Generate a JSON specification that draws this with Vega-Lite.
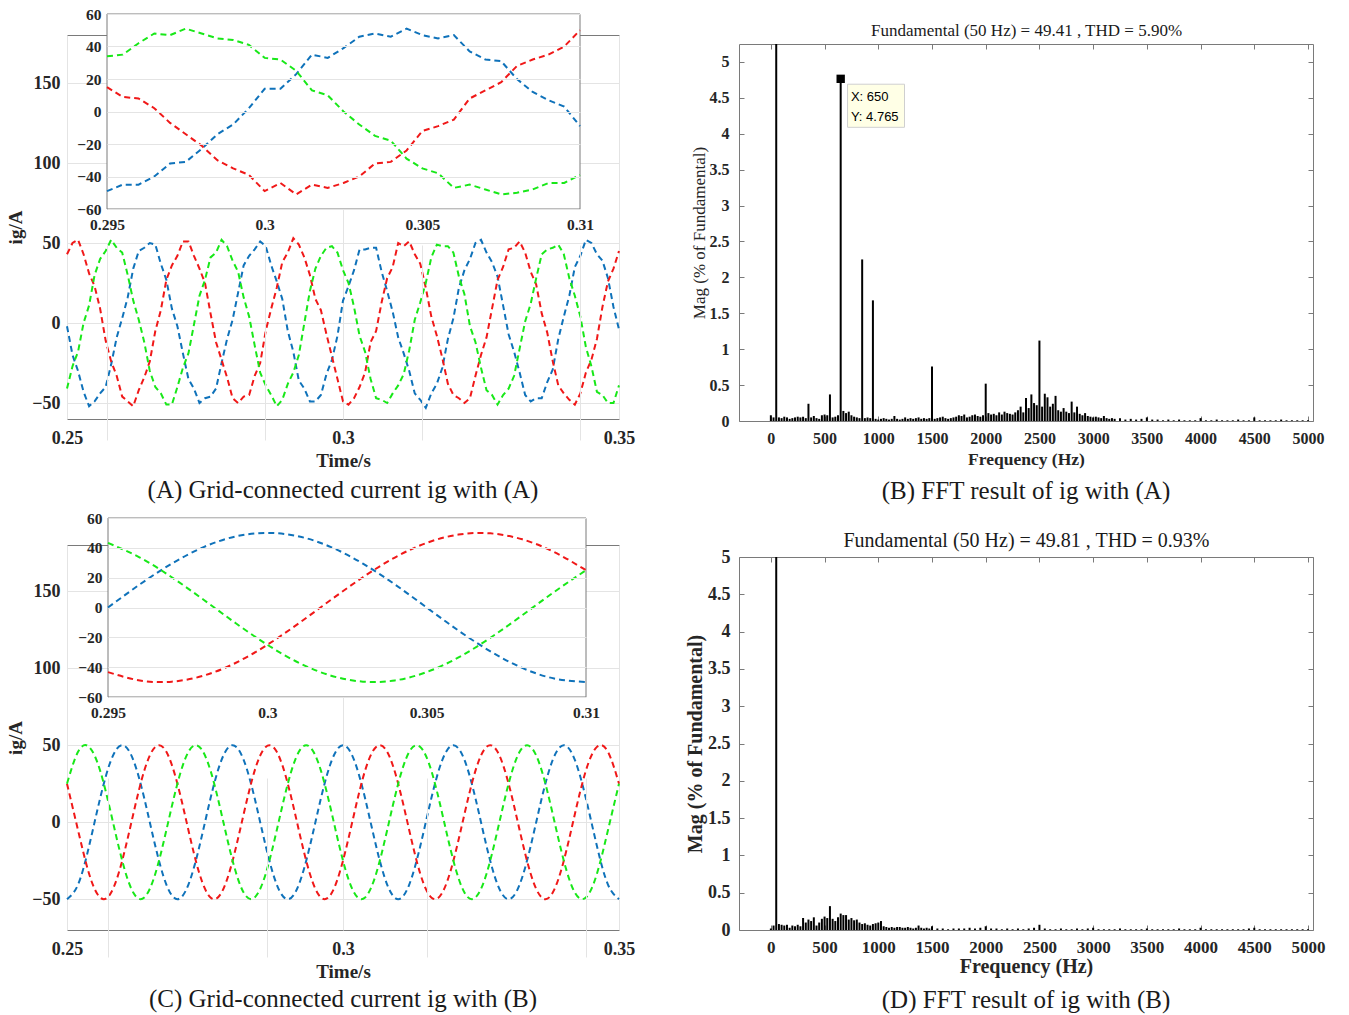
{
"$schema": "https://vega.github.io/schema/vega-lite/v6.json",
"background": "white",
"padding": {"left": 6, "top": 6, "right": 10, "bottom": 6},
"config": {
  "view": {"stroke": "#7a7a7a", "strokeWidth": 1},
  "axis": {"labelFont": "Liberation Serif", "titleFont": "Liberation Serif", "labelFontWeight": "bold", "titleFontWeight": "bold", "labelColor": "#262626", "titleColor": "#262626", "domain": false, "ticks": false, "gridColor": "#e4e4e4", "labelFlush": false},
  "title": {"font": "Liberation Serif", "fontWeight": "normal", "color": "#1a1a1a"}
},
"datasets": {
"mainA": [
{"t":0.25,"p":"a","v":-2},{"t":0.25,"p":"b","v":43},{"t":0.25,"p":"c","v":-41},
{"t":0.251,"p":"a","v":-20},{"t":0.251,"p":"b","v":50},{"t":0.251,"p":"c","v":-27},
{"t":0.252,"p":"a","v":-30},{"t":0.252,"p":"b","v":52},{"t":0.252,"p":"c","v":-18},
{"t":0.253,"p":"a","v":-43},{"t":0.253,"p":"b","v":43},{"t":0.253,"p":"c","v":0},
{"t":0.254,"p":"a","v":-52},{"t":0.254,"p":"b","v":31},{"t":0.254,"p":"c","v":11},
{"t":0.255,"p":"a","v":-49},{"t":0.255,"p":"b","v":23},{"t":0.255,"p":"c","v":30},
{"t":0.256,"p":"a","v":-44},{"t":0.256,"p":"b","v":9},{"t":0.256,"p":"c","v":40},
{"t":0.257,"p":"a","v":-40},{"t":0.257,"p":"b","v":-11},{"t":0.257,"p":"c","v":45},
{"t":0.258,"p":"a","v":-26},{"t":0.258,"p":"b","v":-24},{"t":0.258,"p":"c","v":52},
{"t":0.259,"p":"a","v":-9},{"t":0.259,"p":"b","v":-33},{"t":0.259,"p":"c","v":47},
{"t":0.26,"p":"a","v":3},{"t":0.26,"p":"b","v":-46},{"t":0.26,"p":"c","v":44},
{"t":0.261,"p":"a","v":16},{"t":0.261,"p":"b","v":-49},{"t":0.261,"p":"c","v":30},
{"t":0.262,"p":"a","v":34},{"t":0.262,"p":"b","v":-52},{"t":0.262,"p":"c","v":14},
{"t":0.263,"p":"a","v":45},{"t":0.263,"p":"b","v":-42},{"t":0.263,"p":"c","v":2},
{"t":0.264,"p":"a","v":47},{"t":0.264,"p":"b","v":-34},{"t":0.264,"p":"c","v":-12},
{"t":0.265,"p":"a","v":50},{"t":0.265,"p":"b","v":-24},{"t":0.265,"p":"c","v":-30},
{"t":0.266,"p":"a","v":49},{"t":0.266,"p":"b","v":-5},{"t":0.266,"p":"c","v":-40},
{"t":0.267,"p":"a","v":37},{"t":0.267,"p":"b","v":8},{"t":0.267,"p":"c","v":-44},
{"t":0.268,"p":"a","v":27},{"t":0.268,"p":"b","v":27},{"t":0.268,"p":"c","v":-51},
{"t":0.269,"p":"a","v":9},{"t":0.269,"p":"b","v":36},{"t":0.269,"p":"c","v":-51},
{"t":0.27,"p":"a","v":-2},{"t":0.27,"p":"b","v":42},{"t":0.27,"p":"c","v":-40},
{"t":0.271,"p":"a","v":-19},{"t":0.271,"p":"b","v":51},{"t":0.271,"p":"c","v":-28},
{"t":0.272,"p":"a","v":-35},{"t":0.272,"p":"b","v":51},{"t":0.272,"p":"c","v":-19},
{"t":0.273,"p":"a","v":-41},{"t":0.273,"p":"b","v":42},{"t":0.273,"p":"c","v":-1},
{"t":0.274,"p":"a","v":-50},{"t":0.274,"p":"b","v":34},{"t":0.274,"p":"c","v":17},
{"t":0.275,"p":"a","v":-47},{"t":0.275,"p":"b","v":25},{"t":0.275,"p":"c","v":27},
{"t":0.276,"p":"a","v":-46},{"t":0.276,"p":"b","v":6},{"t":0.276,"p":"c","v":41},
{"t":0.277,"p":"a","v":-41},{"t":0.277,"p":"b","v":-12},{"t":0.277,"p":"c","v":44},
{"t":0.278,"p":"a","v":-25},{"t":0.278,"p":"b","v":-23},{"t":0.278,"p":"c","v":52},
{"t":0.279,"p":"a","v":-10},{"t":0.279,"p":"b","v":-34},{"t":0.279,"p":"c","v":48},
{"t":0.28,"p":"a","v":2},{"t":0.28,"p":"b","v":-47},{"t":0.28,"p":"c","v":39},
{"t":0.281,"p":"a","v":19},{"t":0.281,"p":"b","v":-50},{"t":0.281,"p":"c","v":32},
{"t":0.282,"p":"a","v":36},{"t":0.282,"p":"b","v":-46},{"t":0.282,"p":"c","v":16},
{"t":0.283,"p":"a","v":42},{"t":0.283,"p":"b","v":-45},{"t":0.283,"p":"c","v":4},
{"t":0.284,"p":"a","v":46},{"t":0.284,"p":"b","v":-33},{"t":0.284,"p":"c","v":-14},
{"t":0.285,"p":"a","v":51},{"t":0.285,"p":"b","v":-25},{"t":0.285,"p":"c","v":-31},
{"t":0.286,"p":"a","v":48},{"t":0.286,"p":"b","v":-5},{"t":0.286,"p":"c","v":-39},
{"t":0.287,"p":"a","v":36},{"t":0.287,"p":"b","v":9},{"t":0.287,"p":"c","v":-45},
{"t":0.288,"p":"a","v":26},{"t":0.288,"p":"b","v":22},{"t":0.288,"p":"c","v":-52},
{"t":0.289,"p":"a","v":15},{"t":0.289,"p":"b","v":38},{"t":0.289,"p":"c","v":-48},
{"t":0.29,"p":"a","v":-5},{"t":0.29,"p":"b","v":44},{"t":0.29,"p":"c","v":-38},
{"t":0.291,"p":"a","v":-18},{"t":0.291,"p":"b","v":53},{"t":0.291,"p":"c","v":-31},
{"t":0.292,"p":"a","v":-36},{"t":0.292,"p":"b","v":49},{"t":0.292,"p":"c","v":-20},
{"t":0.293,"p":"a","v":-41},{"t":0.293,"p":"b","v":41},{"t":0.293,"p":"c","v":0},
{"t":0.294,"p":"a","v":-49},{"t":0.294,"p":"b","v":30},{"t":0.294,"p":"c","v":20},
{"t":0.295,"p":"a","v":-49},{"t":0.295,"p":"b","v":15},{"t":0.295,"p":"c","v":34},
{"t":0.296,"p":"a","v":-45},{"t":0.296,"p":"b","v":8},{"t":0.296,"p":"c","v":42},
{"t":0.297,"p":"a","v":-32},{"t":0.297,"p":"b","v":-7},{"t":0.297,"p":"c","v":47},
{"t":0.298,"p":"a","v":-23},{"t":0.298,"p":"b","v":-21},{"t":0.298,"p":"c","v":48},
{"t":0.299,"p":"a","v":-8},{"t":0.299,"p":"b","v":-35},{"t":0.299,"p":"c","v":44},
{"t":0.3,"p":"a","v":14},{"t":0.3,"p":"b","v":-49},{"t":0.3,"p":"c","v":33},
{"t":0.301,"p":"a","v":23},{"t":0.301,"p":"b","v":-51},{"t":0.301,"p":"c","v":25},
{"t":0.302,"p":"a","v":33},{"t":0.302,"p":"b","v":-47},{"t":0.302,"p":"c","v":10},
{"t":0.303,"p":"a","v":46},{"t":0.303,"p":"b","v":-40},{"t":0.303,"p":"c","v":-8},
{"t":0.304,"p":"a","v":46},{"t":0.304,"p":"b","v":-31},{"t":0.304,"p":"c","v":-18},
{"t":0.305,"p":"a","v":47},{"t":0.305,"p":"b","v":-12},{"t":0.305,"p":"c","v":-35},
{"t":0.306,"p":"a","v":47},{"t":0.306,"p":"b","v":-5},{"t":0.306,"p":"c","v":-47},
{"t":0.307,"p":"a","v":32},{"t":0.307,"p":"b","v":13},{"t":0.307,"p":"c","v":-48},
{"t":0.308,"p":"a","v":20},{"t":0.308,"p":"b","v":28},{"t":0.308,"p":"c","v":-50},
{"t":0.309,"p":"a","v":7},{"t":0.309,"p":"b","v":35},{"t":0.309,"p":"c","v":-44},
{"t":0.31,"p":"a","v":-9},{"t":0.31,"p":"b","v":50},{"t":0.31,"p":"c","v":-39},
{"t":0.311,"p":"a","v":-19},{"t":0.311,"p":"b","v":48},{"t":0.311,"p":"c","v":-32},
{"t":0.312,"p":"a","v":-30},{"t":0.312,"p":"b","v":51},{"t":0.312,"p":"c","v":-17},
{"t":0.313,"p":"a","v":-44},{"t":0.313,"p":"b","v":43},{"t":0.313,"p":"c","v":2},
{"t":0.314,"p":"a","v":-48},{"t":0.314,"p":"b","v":37},{"t":0.314,"p":"c","v":13},
{"t":0.315,"p":"a","v":-53},{"t":0.315,"p":"b","v":22},{"t":0.315,"p":"c","v":25},
{"t":0.316,"p":"a","v":-44},{"t":0.316,"p":"b","v":4},{"t":0.316,"p":"c","v":41},
{"t":0.317,"p":"a","v":-38},{"t":0.317,"p":"b","v":-8},{"t":0.317,"p":"c","v":49},
{"t":0.318,"p":"a","v":-28},{"t":0.318,"p":"b","v":-22},{"t":0.318,"p":"c","v":48},
{"t":0.319,"p":"a","v":-10},{"t":0.319,"p":"b","v":-38},{"t":0.319,"p":"c","v":48},
{"t":0.32,"p":"a","v":3},{"t":0.32,"p":"b","v":-45},{"t":0.32,"p":"c","v":44},
{"t":0.321,"p":"a","v":22},{"t":0.321,"p":"b","v":-47},{"t":0.321,"p":"c","v":29},
{"t":0.322,"p":"a","v":33},{"t":0.322,"p":"b","v":-50},{"t":0.322,"p":"c","v":18},
{"t":0.323,"p":"a","v":40},{"t":0.323,"p":"b","v":-47},{"t":0.323,"p":"c","v":-2},
{"t":0.324,"p":"a","v":50},{"t":0.324,"p":"b","v":-33},{"t":0.324,"p":"c","v":-12},
{"t":0.325,"p":"a","v":52},{"t":0.325,"p":"b","v":-20},{"t":0.325,"p":"c","v":-28},
{"t":0.326,"p":"a","v":44},{"t":0.326,"p":"b","v":-9},{"t":0.326,"p":"c","v":-42},
{"t":0.327,"p":"a","v":38},{"t":0.327,"p":"b","v":9},{"t":0.327,"p":"c","v":-45},
{"t":0.328,"p":"a","v":29},{"t":0.328,"p":"b","v":27},{"t":0.328,"p":"c","v":-51},
{"t":0.329,"p":"a","v":11},{"t":0.329,"p":"b","v":35},{"t":0.329,"p":"c","v":-45},
{"t":0.33,"p":"a","v":-7},{"t":0.33,"p":"b","v":46},{"t":0.33,"p":"c","v":-41},
{"t":0.331,"p":"a","v":-18},{"t":0.331,"p":"b","v":47},{"t":0.331,"p":"c","v":-33},
{"t":0.332,"p":"a","v":-31},{"t":0.332,"p":"b","v":51},{"t":0.332,"p":"c","v":-16},
{"t":0.333,"p":"a","v":-45},{"t":0.333,"p":"b","v":44},{"t":0.333,"p":"c","v":1},
{"t":0.334,"p":"a","v":-49},{"t":0.334,"p":"b","v":32},{"t":0.334,"p":"c","v":12},
{"t":0.335,"p":"a","v":-47},{"t":0.335,"p":"b","v":24},{"t":0.335,"p":"c","v":28},
{"t":0.336,"p":"a","v":-47},{"t":0.336,"p":"b","v":6},{"t":0.336,"p":"c","v":43},
{"t":0.337,"p":"a","v":-37},{"t":0.337,"p":"b","v":-6},{"t":0.337,"p":"c","v":46},
{"t":0.338,"p":"a","v":-29},{"t":0.338,"p":"b","v":-24},{"t":0.338,"p":"c","v":47},
{"t":0.339,"p":"a","v":-10},{"t":0.339,"p":"b","v":-39},{"t":0.339,"p":"c","v":49},
{"t":0.34,"p":"a","v":4},{"t":0.34,"p":"b","v":-44},{"t":0.34,"p":"c","v":43},
{"t":0.341,"p":"a","v":17},{"t":0.341,"p":"b","v":-48},{"t":0.341,"p":"c","v":28},
{"t":0.342,"p":"a","v":35},{"t":0.342,"p":"b","v":-51},{"t":0.342,"p":"c","v":17},
{"t":0.343,"p":"a","v":42},{"t":0.343,"p":"b","v":-44},{"t":0.343,"p":"c","v":4},
{"t":0.344,"p":"a","v":52},{"t":0.344,"p":"b","v":-31},{"t":0.344,"p":"c","v":-15},
{"t":0.345,"p":"a","v":50},{"t":0.345,"p":"b","v":-23},{"t":0.345,"p":"c","v":-27},
{"t":0.346,"p":"a","v":43},{"t":0.346,"p":"b","v":-10},{"t":0.346,"p":"c","v":-43},
{"t":0.347,"p":"a","v":39},{"t":0.347,"p":"b","v":10},{"t":0.347,"p":"c","v":-45},
{"t":0.348,"p":"a","v":28},{"t":0.348,"p":"b","v":26},{"t":0.348,"p":"c","v":-50},
{"t":0.349,"p":"a","v":10},{"t":0.349,"p":"b","v":34},{"t":0.349,"p":"c","v":-50},
{"t":0.35,"p":"a","v":-4},{"t":0.35,"p":"b","v":45},{"t":0.35,"p":"c","v":-39}
],
"insetA": [
{"t":0.295,"p":"a","v":-49},{"t":0.295,"p":"b","v":15},{"t":0.295,"p":"c","v":34},
{"t":0.2955,"p":"a","v":-45},{"t":0.2955,"p":"b","v":9},{"t":0.2955,"p":"c","v":35},
{"t":0.296,"p":"a","v":-45},{"t":0.296,"p":"b","v":8},{"t":0.296,"p":"c","v":42},
{"t":0.2965,"p":"a","v":-40},{"t":0.2965,"p":"b","v":2},{"t":0.2965,"p":"c","v":48},
{"t":0.297,"p":"a","v":-32},{"t":0.297,"p":"b","v":-7},{"t":0.297,"p":"c","v":47},
{"t":0.2975,"p":"a","v":-31},{"t":0.2975,"p":"b","v":-14},{"t":0.2975,"p":"c","v":51},
{"t":0.298,"p":"a","v":-23},{"t":0.298,"p":"b","v":-21},{"t":0.298,"p":"c","v":48},
{"t":0.2985,"p":"a","v":-14},{"t":0.2985,"p":"b","v":-30},{"t":0.2985,"p":"c","v":45},
{"t":0.299,"p":"a","v":-8},{"t":0.299,"p":"b","v":-35},{"t":0.299,"p":"c","v":44},
{"t":0.2995,"p":"a","v":2},{"t":0.2995,"p":"b","v":-39},{"t":0.2995,"p":"c","v":41},
{"t":0.3,"p":"a","v":14},{"t":0.3,"p":"b","v":-49},{"t":0.3,"p":"c","v":33},
{"t":0.3005,"p":"a","v":14},{"t":0.3005,"p":"b","v":-44},{"t":0.3005,"p":"c","v":32},
{"t":0.301,"p":"a","v":23},{"t":0.301,"p":"b","v":-51},{"t":0.301,"p":"c","v":25},
{"t":0.3015,"p":"a","v":35},{"t":0.3015,"p":"b","v":-45},{"t":0.3015,"p":"c","v":13},
{"t":0.302,"p":"a","v":33},{"t":0.302,"p":"b","v":-47},{"t":0.302,"p":"c","v":10},
{"t":0.3025,"p":"a","v":39},{"t":0.3025,"p":"b","v":-44},{"t":0.3025,"p":"c","v":0},
{"t":0.303,"p":"a","v":46},{"t":0.303,"p":"b","v":-40},{"t":0.303,"p":"c","v":-8},
{"t":0.3035,"p":"a","v":48},{"t":0.3035,"p":"b","v":-32},{"t":0.3035,"p":"c","v":-15},
{"t":0.304,"p":"a","v":46},{"t":0.304,"p":"b","v":-31},{"t":0.304,"p":"c","v":-18},
{"t":0.3045,"p":"a","v":51},{"t":0.3045,"p":"b","v":-24},{"t":0.3045,"p":"c","v":-29},
{"t":0.305,"p":"a","v":47},{"t":0.305,"p":"b","v":-12},{"t":0.305,"p":"c","v":-35},
{"t":0.3055,"p":"a","v":45},{"t":0.3055,"p":"b","v":-9},{"t":0.3055,"p":"c","v":-38},
{"t":0.306,"p":"a","v":47},{"t":0.306,"p":"b","v":-5},{"t":0.306,"p":"c","v":-47},
{"t":0.3065,"p":"a","v":37},{"t":0.3065,"p":"b","v":8},{"t":0.3065,"p":"c","v":-45},
{"t":0.307,"p":"a","v":32},{"t":0.307,"p":"b","v":13},{"t":0.307,"p":"c","v":-48},
{"t":0.3075,"p":"a","v":31},{"t":0.3075,"p":"b","v":18},{"t":0.3075,"p":"c","v":-51},
{"t":0.308,"p":"a","v":20},{"t":0.308,"p":"b","v":28},{"t":0.308,"p":"c","v":-50},
{"t":0.3085,"p":"a","v":12},{"t":0.3085,"p":"b","v":32},{"t":0.3085,"p":"c","v":-48},
{"t":0.309,"p":"a","v":7},{"t":0.309,"p":"b","v":35},{"t":0.309,"p":"c","v":-44},
{"t":0.3095,"p":"a","v":3},{"t":0.3095,"p":"b","v":40},{"t":0.3095,"p":"c","v":-44},
{"t":0.31,"p":"a","v":-9},{"t":0.31,"p":"b","v":50},{"t":0.31,"p":"c","v":-39}
],
"mainC": [
{"t":0.25,"p":"a","v":-50},{"t":0.25,"p":"b","v":25},{"t":0.25,"p":"c","v":25},
{"t":0.252,"p":"a","v":-40.5},{"t":0.252,"p":"b","v":-5.2},{"t":0.252,"p":"c","v":45.7},
{"t":0.254,"p":"a","v":-15.5},{"t":0.254,"p":"b","v":-33.5},{"t":0.254,"p":"c","v":48.9},
{"t":0.256,"p":"a","v":15.5},{"t":0.256,"p":"b","v":-48.9},{"t":0.256,"p":"c","v":33.5},
{"t":0.258,"p":"a","v":40.5},{"t":0.258,"p":"b","v":-45.7},{"t":0.258,"p":"c","v":5.2},
{"t":0.26,"p":"a","v":50},{"t":0.26,"p":"b","v":-25},{"t":0.26,"p":"c","v":-25},
{"t":0.262,"p":"a","v":40.5},{"t":0.262,"p":"b","v":5.2},{"t":0.262,"p":"c","v":-45.7},
{"t":0.264,"p":"a","v":15.5},{"t":0.264,"p":"b","v":33.5},{"t":0.264,"p":"c","v":-48.9},
{"t":0.266,"p":"a","v":-15.5},{"t":0.266,"p":"b","v":48.9},{"t":0.266,"p":"c","v":-33.5},
{"t":0.268,"p":"a","v":-40.5},{"t":0.268,"p":"b","v":45.7},{"t":0.268,"p":"c","v":-5.2},
{"t":0.27,"p":"a","v":-50},{"t":0.27,"p":"b","v":25},{"t":0.27,"p":"c","v":25},
{"t":0.272,"p":"a","v":-40.5},{"t":0.272,"p":"b","v":-5.2},{"t":0.272,"p":"c","v":45.7},
{"t":0.274,"p":"a","v":-15.5},{"t":0.274,"p":"b","v":-33.5},{"t":0.274,"p":"c","v":48.9},
{"t":0.276,"p":"a","v":15.5},{"t":0.276,"p":"b","v":-48.9},{"t":0.276,"p":"c","v":33.5},
{"t":0.278,"p":"a","v":40.5},{"t":0.278,"p":"b","v":-45.7},{"t":0.278,"p":"c","v":5.2},
{"t":0.28,"p":"a","v":50},{"t":0.28,"p":"b","v":-25},{"t":0.28,"p":"c","v":-25},
{"t":0.282,"p":"a","v":40.5},{"t":0.282,"p":"b","v":5.2},{"t":0.282,"p":"c","v":-45.7},
{"t":0.284,"p":"a","v":15.5},{"t":0.284,"p":"b","v":33.5},{"t":0.284,"p":"c","v":-48.9},
{"t":0.286,"p":"a","v":-15.5},{"t":0.286,"p":"b","v":48.9},{"t":0.286,"p":"c","v":-33.5},
{"t":0.288,"p":"a","v":-40.5},{"t":0.288,"p":"b","v":45.7},{"t":0.288,"p":"c","v":-5.2},
{"t":0.29,"p":"a","v":-50},{"t":0.29,"p":"b","v":25},{"t":0.29,"p":"c","v":25},
{"t":0.292,"p":"a","v":-40.5},{"t":0.292,"p":"b","v":-5.2},{"t":0.292,"p":"c","v":45.7},
{"t":0.294,"p":"a","v":-15.5},{"t":0.294,"p":"b","v":-33.5},{"t":0.294,"p":"c","v":48.9},
{"t":0.296,"p":"a","v":15.5},{"t":0.296,"p":"b","v":-48.9},{"t":0.296,"p":"c","v":33.5},
{"t":0.298,"p":"a","v":40.5},{"t":0.298,"p":"b","v":-45.7},{"t":0.298,"p":"c","v":5.2},
{"t":0.3,"p":"a","v":50},{"t":0.3,"p":"b","v":-25},{"t":0.3,"p":"c","v":-25},
{"t":0.302,"p":"a","v":40.5},{"t":0.302,"p":"b","v":5.2},{"t":0.302,"p":"c","v":-45.7},
{"t":0.304,"p":"a","v":15.5},{"t":0.304,"p":"b","v":33.5},{"t":0.304,"p":"c","v":-48.9},
{"t":0.306,"p":"a","v":-15.5},{"t":0.306,"p":"b","v":48.9},{"t":0.306,"p":"c","v":-33.5},
{"t":0.308,"p":"a","v":-40.5},{"t":0.308,"p":"b","v":45.7},{"t":0.308,"p":"c","v":-5.2},
{"t":0.31,"p":"a","v":-50},{"t":0.31,"p":"b","v":25},{"t":0.31,"p":"c","v":25},
{"t":0.312,"p":"a","v":-40.5},{"t":0.312,"p":"b","v":-5.2},{"t":0.312,"p":"c","v":45.7},
{"t":0.314,"p":"a","v":-15.5},{"t":0.314,"p":"b","v":-33.5},{"t":0.314,"p":"c","v":48.9},
{"t":0.316,"p":"a","v":15.5},{"t":0.316,"p":"b","v":-48.9},{"t":0.316,"p":"c","v":33.5},
{"t":0.318,"p":"a","v":40.5},{"t":0.318,"p":"b","v":-45.7},{"t":0.318,"p":"c","v":5.2},
{"t":0.32,"p":"a","v":50},{"t":0.32,"p":"b","v":-25},{"t":0.32,"p":"c","v":-25},
{"t":0.322,"p":"a","v":40.5},{"t":0.322,"p":"b","v":5.2},{"t":0.322,"p":"c","v":-45.7},
{"t":0.324,"p":"a","v":15.5},{"t":0.324,"p":"b","v":33.5},{"t":0.324,"p":"c","v":-48.9},
{"t":0.326,"p":"a","v":-15.5},{"t":0.326,"p":"b","v":48.9},{"t":0.326,"p":"c","v":-33.5},
{"t":0.328,"p":"a","v":-40.5},{"t":0.328,"p":"b","v":45.7},{"t":0.328,"p":"c","v":-5.2},
{"t":0.33,"p":"a","v":-50},{"t":0.33,"p":"b","v":25},{"t":0.33,"p":"c","v":25},
{"t":0.332,"p":"a","v":-40.5},{"t":0.332,"p":"b","v":-5.2},{"t":0.332,"p":"c","v":45.7},
{"t":0.334,"p":"a","v":-15.5},{"t":0.334,"p":"b","v":-33.5},{"t":0.334,"p":"c","v":48.9},
{"t":0.336,"p":"a","v":15.5},{"t":0.336,"p":"b","v":-48.9},{"t":0.336,"p":"c","v":33.5},
{"t":0.338,"p":"a","v":40.5},{"t":0.338,"p":"b","v":-45.7},{"t":0.338,"p":"c","v":5.2},
{"t":0.34,"p":"a","v":50},{"t":0.34,"p":"b","v":-25},{"t":0.34,"p":"c","v":-25},
{"t":0.342,"p":"a","v":40.5},{"t":0.342,"p":"b","v":5.2},{"t":0.342,"p":"c","v":-45.7},
{"t":0.344,"p":"a","v":15.5},{"t":0.344,"p":"b","v":33.5},{"t":0.344,"p":"c","v":-48.9},
{"t":0.346,"p":"a","v":-15.5},{"t":0.346,"p":"b","v":48.9},{"t":0.346,"p":"c","v":-33.5},
{"t":0.348,"p":"a","v":-40.5},{"t":0.348,"p":"b","v":45.7},{"t":0.348,"p":"c","v":-5.2},
{"t":0.35,"p":"a","v":-50},{"t":0.35,"p":"b","v":25},{"t":0.35,"p":"c","v":25}
],
"insetC": [
{"t":0.295,"p":"a","v":0},{"t":0.295,"p":"b","v":-43.3},{"t":0.295,"p":"c","v":43.3},
{"t":0.296,"p":"a","v":15.5},{"t":0.296,"p":"b","v":-48.9},{"t":0.296,"p":"c","v":33.5},
{"t":0.297,"p":"a","v":29.4},{"t":0.297,"p":"b","v":-49.7},{"t":0.297,"p":"c","v":20.3},
{"t":0.298,"p":"a","v":40.5},{"t":0.298,"p":"b","v":-45.7},{"t":0.298,"p":"c","v":5.2},
{"t":0.299,"p":"a","v":47.6},{"t":0.299,"p":"b","v":-37.2},{"t":0.299,"p":"c","v":-10.4},
{"t":0.3,"p":"a","v":50},{"t":0.3,"p":"b","v":-25},{"t":0.3,"p":"c","v":-25},
{"t":0.301,"p":"a","v":47.6},{"t":0.301,"p":"b","v":-10.4},{"t":0.301,"p":"c","v":-37.2},
{"t":0.302,"p":"a","v":40.5},{"t":0.302,"p":"b","v":5.2},{"t":0.302,"p":"c","v":-45.7},
{"t":0.303,"p":"a","v":29.4},{"t":0.303,"p":"b","v":20.3},{"t":0.303,"p":"c","v":-49.7},
{"t":0.304,"p":"a","v":15.5},{"t":0.304,"p":"b","v":33.5},{"t":0.304,"p":"c","v":-48.9},
{"t":0.305,"p":"a","v":0},{"t":0.305,"p":"b","v":43.3},{"t":0.305,"p":"c","v":-43.3},
{"t":0.306,"p":"a","v":-15.5},{"t":0.306,"p":"b","v":48.9},{"t":0.306,"p":"c","v":-33.5},
{"t":0.307,"p":"a","v":-29.4},{"t":0.307,"p":"b","v":49.7},{"t":0.307,"p":"c","v":-20.3},
{"t":0.308,"p":"a","v":-40.5},{"t":0.308,"p":"b","v":45.7},{"t":0.308,"p":"c","v":-5.2},
{"t":0.309,"p":"a","v":-47.6},{"t":0.309,"p":"b","v":37.2},{"t":0.309,"p":"c","v":10.4},
{"t":0.31,"p":"a","v":-50},{"t":0.31,"p":"b","v":25},{"t":0.31,"p":"c","v":25}
],
"fftA": [
{"f":0,"m":0.08},{"f":25,"m":0.05},{"f":50,"m":100},{"f":75,"m":0.05},{"f":100,"m":0.04},{"f":125,"m":0.06},{"f":150,"m":0.05},{"f":175,"m":0.03},{"f":200,"m":0.04},{"f":225,"m":0.05},{"f":250,"m":0.06},{"f":275,"m":0.05},{"f":300,"m":0.06},{"f":325,"m":0.04},{"f":350,"m":0.24},{"f":375,"m":0.05},{"f":400,"m":0.07},{"f":425,"m":0.04},{"f":450,"m":0.03},{"f":475,"m":0.08},{"f":500,"m":0.09},{"f":525,"m":0.08},{"f":550,"m":0.37},{"f":575,"m":0.05},{"f":600,"m":0.06},{"f":625,"m":0.08},{"f":650,"m":4.765},{"f":675,"m":0.14},{"f":700,"m":0.11},{"f":725,"m":0.13},{"f":750,"m":0.08},{"f":775,"m":0.06},{"f":800,"m":0.05},{"f":825,"m":0.04},{"f":850,"m":2.25},{"f":875,"m":0.04},{"f":900,"m":0.05},{"f":925,"m":0.04},{"f":950,"m":1.68},{"f":975,"m":0.03},
{"f":1000,"m":0.02},{"f":1025,"m":0.03},{"f":1050,"m":0.04},{"f":1075,"m":0.03},{"f":1100,"m":0.02},{"f":1125,"m":0.03},{"f":1150,"m":0.07},{"f":1175,"m":0.03},{"f":1200,"m":0.02},{"f":1225,"m":0.03},{"f":1250,"m":0.05},{"f":1275,"m":0.03},{"f":1300,"m":0.04},{"f":1325,"m":0.03},{"f":1350,"m":0.04},{"f":1375,"m":0.05},{"f":1400,"m":0.03},{"f":1425,"m":0.04},{"f":1450,"m":0.03},{"f":1475,"m":0.04},{"f":1500,"m":0.76},{"f":1525,"m":0.03},{"f":1550,"m":0.04},{"f":1575,"m":0.05},{"f":1600,"m":0.06},{"f":1625,"m":0.04},{"f":1650,"m":0.03},{"f":1675,"m":0.04},{"f":1700,"m":0.05},{"f":1725,"m":0.06},{"f":1750,"m":0.08},{"f":1775,"m":0.07},{"f":1800,"m":0.09},{"f":1825,"m":0.05},{"f":1850,"m":0.06},{"f":1875,"m":0.08},{"f":1900,"m":0.09},{"f":1925,"m":0.07},{"f":1950,"m":0.06},{"f":1975,"m":0.08},
{"f":2000,"m":0.52},{"f":2025,"m":0.11},{"f":2050,"m":0.09},{"f":2075,"m":0.1},{"f":2100,"m":0.08},{"f":2125,"m":0.12},{"f":2150,"m":0.09},{"f":2175,"m":0.13},{"f":2200,"m":0.11},{"f":2225,"m":0.1},{"f":2250,"m":0.09},{"f":2275,"m":0.12},{"f":2300,"m":0.15},{"f":2325,"m":0.2},{"f":2350,"m":0.12},{"f":2375,"m":0.32},{"f":2400,"m":0.18},{"f":2425,"m":0.37},{"f":2450,"m":0.25},{"f":2475,"m":0.22},{"f":2500,"m":1.12},{"f":2525,"m":0.2},{"f":2550,"m":0.38},{"f":2575,"m":0.33},{"f":2600,"m":0.2},{"f":2625,"m":0.24},{"f":2650,"m":0.35},{"f":2675,"m":0.15},{"f":2700,"m":0.13},{"f":2725,"m":0.18},{"f":2750,"m":0.13},{"f":2775,"m":0.11},{"f":2800,"m":0.27},{"f":2825,"m":0.12},{"f":2850,"m":0.2},{"f":2875,"m":0.1},{"f":2900,"m":0.08},{"f":2925,"m":0.11},{"f":2950,"m":0.07},{"f":2975,"m":0.06},
{"f":3000,"m":0.05},{"f":3025,"m":0.06},{"f":3050,"m":0.05},{"f":3075,"m":0.04},{"f":3100,"m":0.07},{"f":3125,"m":0.04},{"f":3150,"m":0.03},{"f":3175,"m":0.04},{"f":3200,"m":0.03},{"f":3250,"m":0.04},{"f":3300,"m":0.02},{"f":3350,"m":0.03},{"f":3400,"m":0.02},{"f":3450,"m":0.03},{"f":3500,"m":0.05},{"f":3550,"m":0.02},{"f":3600,"m":0.02},{"f":3650,"m":0.01},{"f":3700,"m":0.02},{"f":3750,"m":0.01},{"f":3800,"m":0.02},{"f":3850,"m":0.01},{"f":3900,"m":0.01},{"f":3950,"m":0.01},{"f":4000,"m":0.04},{"f":4050,"m":0.01},{"f":4100,"m":0.01},{"f":4150,"m":0.02},{"f":4200,"m":0.01},{"f":4250,"m":0.01},{"f":4300,"m":0.01},{"f":4350,"m":0.02},{"f":4400,"m":0.01},{"f":4450,"m":0.01},{"f":4500,"m":0.05},{"f":4550,"m":0.01},{"f":4600,"m":0.01},{"f":4650,"m":0.01},{"f":4700,"m":0.01},{"f":4750,"m":0.02},{"f":4800,"m":0.01},{"f":4850,"m":0.01},{"f":4900,"m":0.01},{"f":4950,"m":0.01},{"f":5000,"m":0.01}
],
"fftB": [
{"f":0,"m":0.02},{"f":25,"m":0.06},{"f":50,"m":100},{"f":75,"m":0.08},{"f":100,"m":0.07},{"f":125,"m":0.06},{"f":150,"m":0.07},{"f":175,"m":0.03},{"f":200,"m":0.06},{"f":225,"m":0.05},{"f":250,"m":0.07},{"f":275,"m":0.05},{"f":300,"m":0.16},{"f":325,"m":0.1},{"f":350,"m":0.14},{"f":375,"m":0.12},{"f":400,"m":0.17},{"f":425,"m":0.06},{"f":450,"m":0.1},{"f":475,"m":0.15},{"f":500,"m":0.18},{"f":525,"m":0.16},{"f":550,"m":0.32},{"f":575,"m":0.15},{"f":600,"m":0.12},{"f":625,"m":0.17},{"f":650,"m":0.22},{"f":675,"m":0.2},{"f":700,"m":0.2},{"f":725,"m":0.14},{"f":750,"m":0.16},{"f":775,"m":0.13},{"f":800,"m":0.14},{"f":825,"m":0.1},{"f":850,"m":0.08},{"f":875,"m":0.09},{"f":900,"m":0.07},{"f":925,"m":0.06},{"f":950,"m":0.08},{"f":975,"m":0.09},
{"f":1000,"m":0.1},{"f":1025,"m":0.12},{"f":1050,"m":0.05},{"f":1075,"m":0.04},{"f":1100,"m":0.03},{"f":1125,"m":0.04},{"f":1150,"m":0.03},{"f":1175,"m":0.04},{"f":1200,"m":0.04},{"f":1225,"m":0.03},{"f":1250,"m":0.03},{"f":1275,"m":0.04},{"f":1300,"m":0.03},{"f":1325,"m":0.02},{"f":1350,"m":0.03},{"f":1375,"m":0.06},{"f":1400,"m":0.03},{"f":1425,"m":0.02},{"f":1450,"m":0.03},{"f":1475,"m":0.02},{"f":1500,"m":0.05},
{"f":1550,"m":0.02},{"f":1600,"m":0.02},{"f":1650,"m":0.01},{"f":1700,"m":0.02},{"f":1750,"m":0.02},{"f":1800,"m":0.02},{"f":1850,"m":0.03},{"f":1900,"m":0.02},{"f":1950,"m":0.03},{"f":2000,"m":0.05},{"f":2050,"m":0.02},{"f":2100,"m":0.02},{"f":2150,"m":0.01},{"f":2200,"m":0.02},{"f":2250,"m":0.01},{"f":2300,"m":0.02},{"f":2350,"m":0.01},{"f":2400,"m":0.02},{"f":2450,"m":0.03},{"f":2500,"m":0.07},{"f":2550,"m":0.02},{"f":2600,"m":0.01},{"f":2650,"m":0.01},{"f":2700,"m":0.02},{"f":2750,"m":0.01},{"f":2800,"m":0.01},{"f":2850,"m":0.02},{"f":2900,"m":0.01},{"f":2950,"m":0.02},{"f":3000,"m":0.03},{"f":3050,"m":0.01},{"f":3100,"m":0.01},{"f":3150,"m":0.01},{"f":3200,"m":0.01},{"f":3250,"m":0.02},{"f":3300,"m":0.01},{"f":3350,"m":0.01},{"f":3400,"m":0.01},{"f":3450,"m":0.01},{"f":3500,"m":0.02},{"f":3550,"m":0.01},{"f":3600,"m":0.01},{"f":3650,"m":0.01},{"f":3700,"m":0.01},{"f":3750,"m":0.01},{"f":3800,"m":0.02},{"f":3850,"m":0.01},{"f":3900,"m":0.01},{"f":3950,"m":0.01},{"f":4000,"m":0.03},{"f":4050,"m":0.01},{"f":4100,"m":0.01},{"f":4150,"m":0.01},{"f":4200,"m":0.01},{"f":4250,"m":0.01},{"f":4300,"m":0.01},{"f":4350,"m":0.01},{"f":4400,"m":0.01},{"f":4450,"m":0.02},{"f":4500,"m":0.03},{"f":4550,"m":0.01},{"f":4600,"m":0.01},{"f":4650,"m":0.01},{"f":4700,"m":0.01},{"f":4750,"m":0.01},{"f":4800,"m":0.01},{"f":4850,"m":0.01},{"f":4900,"m":0.01},{"f":4950,"m":0.01},{"f":5000,"m":0.01}
]
},
"spacing": 49,
"hconcat": [
{
 "spacing": 6,
 "vconcat": [
  {
   "width": 552, "height": 384,
   "title": {"text": "(A)  Grid-connected current ig with (A)", "orient": "bottom", "anchor": "middle", "offset": 8, "fontSize": 25},
   "resolve": {"scale": {"x": "independent", "y": "independent"}},
   "layer": [
    {"data": {"name": "mainA"}, "mark": {"type": "line", "strokeDash": [6, 4], "strokeWidth": 2},
     "encoding": {
      "x": {"field": "t", "type": "quantitative", "scale": {"domain": [0.25, 0.35], "nice": false, "zero": false}, "axis": {"values": [0.25, 0.3, 0.35], "format": ".4~g", "title": "Time/s", "grid": true, "labelFontSize": 18, "titleFontSize": 19, "labelPadding": 10, "titlePadding": 4}},
      "y": {"field": "v", "type": "quantitative", "scale": {"domain": [-60, 180], "nice": false, "zero": false}, "axis": {"values": [-50, 0, 50, 100, 150], "format": ".4~g", "title": "ig/A", "grid": true, "labelFontSize": 18, "titleFontSize": 19, "labelPadding": 7, "titlePadding": 6}},
      "color": {"field": "p", "type": "nominal", "scale": {"domain": ["a", "b", "c"], "range": ["#0f72ba", "#f01818", "#18e818"]}, "legend": null}
     }},
    {"layer": [
      {"data": {"values": [{}]}, "mark": {"type": "rect", "fill": "white", "stroke": "#7a7a7a", "strokeWidth": 1},
       "encoding": {
        "x": {"datum": 0.295, "type": "quantitative", "scale": {"domain": [0.295, 0.31], "range": [40, 513], "nice": false, "zero": false}, "axis": {"orient": "bottom", "offset": -210, "values": [0.295, 0.3, 0.305, 0.31], "format": ".4~g", "title": null, "grid": true, "labelFontSize": 15.5, "labelPadding": 8, "zindex": 1}},
        "x2": {"datum": 0.31},
        "y": {"datum": -60, "type": "quantitative", "scale": {"domain": [-60, 60], "range": [174, -21], "nice": false, "zero": false}, "axis": {"orient": "left", "offset": -40, "values": [-60, -40, -20, 0, 20, 40, 60], "format": ".4~g", "title": null, "grid": true, "labelFontSize": 15.5, "labelPadding": 6, "zindex": 1}},
        "y2": {"datum": 60}
       }},
      {"data": {"name": "insetA"}, "mark": {"type": "line", "strokeDash": [6, 4], "strokeWidth": 2},
       "encoding": {"x": {"field": "t", "type": "quantitative"}, "y": {"field": "v", "type": "quantitative"}, "color": {"field": "p", "type": "nominal", "legend": null}}}
    ]}
   ]
  },
  {
   "width": 552, "height": 385,
   "title": {"text": "(C)  Grid-connected current ig with (B)", "orient": "bottom", "anchor": "middle", "offset": 6, "fontSize": 25},
   "resolve": {"scale": {"x": "independent", "y": "independent"}},
   "layer": [
    {"data": {"name": "mainC"}, "mark": {"type": "line", "strokeDash": [6, 4], "strokeWidth": 2, "interpolate": "natural"},
     "encoding": {
      "x": {"field": "t", "type": "quantitative", "scale": {"domain": [0.25, 0.35], "nice": false, "zero": false}, "axis": {"values": [0.25, 0.3, 0.35], "format": ".4~g", "title": "Time/s", "grid": true, "labelFontSize": 18, "titleFontSize": 19, "labelPadding": 10, "titlePadding": 4}},
      "y": {"field": "v", "type": "quantitative", "scale": {"domain": [-70, 180], "nice": false, "zero": false}, "axis": {"values": [-50, 0, 50, 100, 150], "format": ".4~g", "title": "ig/A", "grid": true, "labelFontSize": 18, "titleFontSize": 19, "labelPadding": 7, "titlePadding": 6}},
      "color": {"field": "p", "type": "nominal", "scale": {"domain": ["a", "b", "c"], "range": ["#0f72ba", "#f01818", "#18e818"]}, "legend": null}
     }},
    {"layer": [
      {"data": {"values": [{}]}, "mark": {"type": "rect", "fill": "white", "stroke": "#7a7a7a", "strokeWidth": 1},
       "encoding": {
        "x": {"datum": 0.295, "type": "quantitative", "scale": {"domain": [0.295, 0.31], "range": [41, 519], "nice": false, "zero": false}, "axis": {"orient": "bottom", "offset": -233, "values": [0.295, 0.3, 0.305, 0.31], "format": ".4~g", "title": null, "grid": true, "labelFontSize": 15.5, "labelPadding": 8, "zindex": 1}},
        "x2": {"datum": 0.31},
        "y": {"datum": -60, "type": "quantitative", "scale": {"domain": [-60, 60], "range": [152, -27], "nice": false, "zero": false}, "axis": {"orient": "left", "offset": -41, "values": [-60, -40, -20, 0, 20, 40, 60], "format": ".4~g", "title": null, "grid": true, "labelFontSize": 15.5, "labelPadding": 6, "zindex": 1}},
        "y2": {"datum": 60}
       }},
      {"data": {"name": "insetC"}, "mark": {"type": "line", "strokeDash": [6, 4], "strokeWidth": 2, "interpolate": "natural"},
       "encoding": {"x": {"field": "t", "type": "quantitative"}, "y": {"field": "v", "type": "quantitative"}, "color": {"field": "p", "type": "nominal", "legend": null}}}
    ]}
   ]
  }
 ]
},
{
 "spacing": 26,
 "vconcat": [
  {
   "spacing": -18,
   "vconcat": [
    {"width": 574, "height": 1, "data": {"values": [{}]}, "mark": {"type": "point", "opacity": 0}, "encoding": {}, "view": {"stroke": null}},
    {
     "width": 574, "height": 377,
     "title": {"text": "(B)  FFT result of ig with (A)", "orient": "bottom", "anchor": "middle", "offset": 11, "fontSize": 25},
     "resolve": {"axis": {"x": "independent", "y": "independent"}},
     "layer": [
      {"data": {"name": "fftA"}, "mark": {"type": "bar", "orient": "vertical", "size": 2, "color": "black", "clip": true},
       "encoding": {
        "x": {"field": "f", "type": "quantitative", "scale": {"domain": [-250, 5000], "nice": false, "zero": false}, "axis": {"values": [0, 500, 1000, 1500, 2000, 2500, 3000, 3500, 4000, 4500, 5000], "format": ".4~g", "title": "Frequency (Hz)", "grid": false, "labelFontSize": 16, "titleFontSize": 17.5, "ticks": true, "tickSize": -5, "tickColor": "#7a7a7a", "labelPadding": 14, "titlePadding": 4}},
        "y": {"field": "m", "type": "quantitative", "scale": {"domain": [0, 5.25], "nice": false, "zero": false}, "axis": {"values": [0, 0.5, 1, 1.5, 2, 2.5, 3, 3.5, 4, 4.5, 5], "format": ".4~g", "title": "Mag (% of Fundamental)", "grid": false, "titleFontWeight": "normal", "titleFontSize": 17, "labelFontSize": 16, "ticks": true, "tickSize": -5, "tickColor": "#7a7a7a", "labelPadding": 15, "titlePadding": 1}}
       }},
      {"data": {"values": [{}]}, "mark": {"type": "rect", "fill": "#ffffe6", "stroke": "#cfcfcf", "strokeWidth": 1},
       "encoding": {"x": {"datum": 714, "type": "quantitative", "axis": null}, "x2": {"datum": 1244}, "y": {"datum": 4.69, "type": "quantitative", "axis": null}, "y2": {"datum": 4.09}}},
      {"data": {"values": [{}]}, "mark": {"type": "text", "text": ["X: 650", "Y: 4.765"], "font": "Liberation Sans", "fontSize": 13, "lineHeight": 20, "align": "left", "baseline": "top", "color": "black"},
       "encoding": {"x": {"datum": 745, "type": "quantitative", "axis": null}, "y": {"datum": 4.6, "type": "quantitative", "axis": null}}},
      {"data": {"values": [{}]}, "mark": {"type": "point", "shape": "square", "filled": true, "color": "black", "size": 70, "opacity": 1},
       "encoding": {
        "x": {"datum": 650, "type": "quantitative", "axis": {"orient": "top", "values": [0, 500, 1000, 1500, 2000, 2500, 3000, 3500, 4000, 4500, 5000], "labels": false, "title": "Fundamental (50 Hz) = 49.41 , THD = 5.90%", "titleFontWeight": "normal", "titleFontSize": 17, "titleColor": "#1a1a1a", "titlePadding": 4, "ticks": true, "tickSize": -5, "tickColor": "#7a7a7a", "grid": false}},
        "y": {"datum": 4.765, "type": "quantitative", "axis": {"orient": "right", "values": [0, 0.5, 1, 1.5, 2, 2.5, 3, 3.5, 4, 4.5, 5], "labels": false, "title": null, "ticks": true, "tickSize": -5, "tickColor": "#7a7a7a", "grid": false}}
       }}
     ]
    }
   ]
  },
  {
   "width": 574, "height": 373,
   "title": {"text": "(D)  FFT result of ig with (B)", "orient": "bottom", "anchor": "middle", "offset": 12, "fontSize": 25},
   "resolve": {"axis": {"x": "independent", "y": "independent"}},
   "layer": [
    {"data": {"name": "fftB"}, "mark": {"type": "bar", "orient": "vertical", "size": 2, "color": "black", "clip": true},
     "encoding": {
      "x": {"field": "f", "type": "quantitative", "scale": {"domain": [-250, 5000], "nice": false, "zero": false}, "axis": {"values": [0, 500, 1000, 1500, 2000, 2500, 3000, 3500, 4000, 4500, 5000], "format": ".4~g", "title": "Frequency (Hz)", "grid": false, "labelFontSize": 17, "titleFontSize": 20, "ticks": true, "tickSize": -5, "tickColor": "#7a7a7a", "labelPadding": 14, "titlePadding": 1}},
      "y": {"field": "m", "type": "quantitative", "scale": {"domain": [0, 5], "nice": false, "zero": false}, "axis": {"values": [0, 0.5, 1, 1.5, 2, 2.5, 3, 3.5, 4, 4.5, 5], "format": ".4~g", "title": "Mag (% of Fundamental)", "grid": false, "titleFontSize": 20, "labelFontSize": 18, "ticks": true, "tickSize": -5, "tickColor": "#7a7a7a", "labelPadding": 14, "titlePadding": 2}}
     }},
    {"data": {"values": [{}]}, "mark": {"type": "point", "opacity": 0},
     "encoding": {
      "x": {"datum": 50, "type": "quantitative", "axis": {"orient": "top", "values": [0, 500, 1000, 1500, 2000, 2500, 3000, 3500, 4000, 4500, 5000], "labels": false, "title": "Fundamental (50 Hz) = 49.81 , THD = 0.93%", "titleFontWeight": "normal", "titleFontSize": 20, "titleColor": "#1a1a1a", "titlePadding": 6, "ticks": true, "tickSize": -5, "tickColor": "#7a7a7a", "grid": false}},
      "y": {"datum": 0, "type": "quantitative", "axis": {"orient": "right", "values": [0, 0.5, 1, 1.5, 2, 2.5, 3, 3.5, 4, 4.5, 5], "labels": false, "title": null, "ticks": true, "tickSize": -5, "tickColor": "#7a7a7a", "grid": false}}
     }}
   ]
  }
 ]
}
]
}
